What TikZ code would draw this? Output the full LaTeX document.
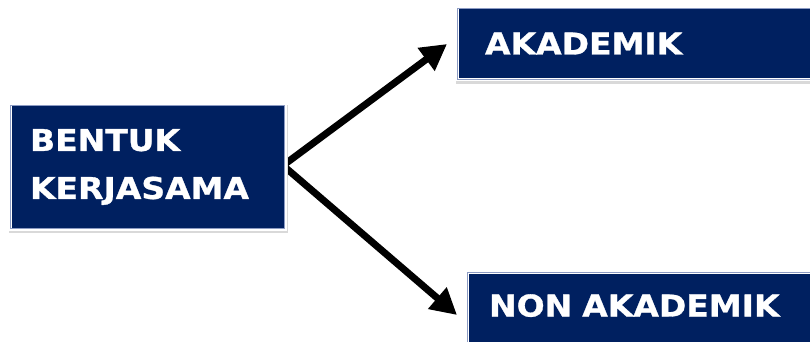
\documentclass[tikz,border=0pt]{standalone}
\usepackage{fontspec}
\newfontfamily\boxfont[FakeStretch=1.1,FakeBold=1]{DejaVu Sans Bold}
\usetikzlibrary{arrows.meta,shadows}
\definecolor{navy}{RGB}{0,32,96}
\definecolor{navyedge}{RGB}{140,155,195}
\begin{document}
\begin{tikzpicture}[x=1pt,y=-1pt,
  box/.style={draw=white, line width=3pt, fill=navy, text=white,
    font=\boxfont\fontsize{30}{48}\selectfont,
    align=left, anchor=north west, inner ysep=0pt,
    general shadow={draw=black!15, fill=black!15, line width=4.5pt,
      shadow xshift=1.2pt, shadow yshift=-2.2pt}},
  rim/.style={navyedge, line width=0.6pt},
  link/.style={line width=7pt, -{Triangle[length=26pt,width=27pt]}}
]
\useasboundingbox (0,0) rectangle (810,342);

% the two connectors leave one point on the right side of the source box
\coordinate (bstart) at (283,165.5);
\coordinate (akin) at (447,44);
\coordinate (nonin) at (457,315);
\draw[link] (bstart) -- (akin);
\draw[link] (bstart) -- (nonin);

\node[box, minimum width=275pt, minimum height=124pt, text width=235pt,
      inner xsep=20pt] (bentuk) at (8.5,103.5) {BENTUK\\KERJASAMA};
\node[box, minimum width=353pt, minimum height=72pt, text width=300pt,
      inner xsep=28pt, text height=21pt, text depth=0pt] (akademik) at (455.5,6.5) {AKADEMIK};
\node[box, minimum width=344pt, minimum height=80pt, text width=300pt,
      inner xsep=21pt, text height=21pt, text depth=12pt] (nonakademik) at (465.5,270.5) {NON AKADEMIK};

% thin light rim just inside each white frame
\foreach \n in {bentuk,akademik,nonakademik}
  \draw[rim] ([xshift=1.8pt,yshift=-1.8pt]\n.north west) rectangle
             ([xshift=-1.8pt,yshift=1.8pt]\n.south east);
\end{tikzpicture}
\end{document}
